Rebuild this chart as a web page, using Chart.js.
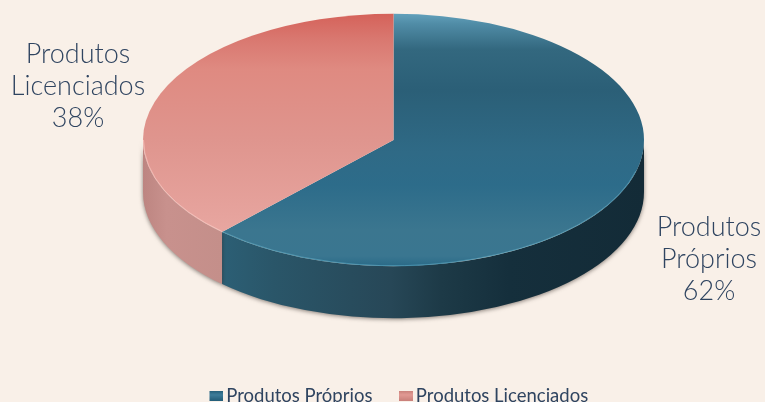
<!DOCTYPE html>
<html><head><meta charset="utf-8">
<style>html,body{margin:0;padding:0;background:#F9F0E8}canvas{display:block}</style>
<script src="https://cdn.jsdelivr.net/npm/chart.js@4"></script>
</head><body>
<canvas id="c" width="765" height="402"></canvas>
<script>
const categories = ['Produtos Próprios', 'Produtos Licenciados'];
const shares = [62, 38];
const labelWords = [['Produtos', 'Próprios'], ['Produtos', 'Licenciados']];

const SCREEN = {cx: 393.5, cy: 140, squash: 0.504, depth: 52};
const LABEL_AT = [{x: 709, y: 227}, {x: 78, y: 54}];
const TEXT = '#2f4460';

const topStops = [
  [[0, '#62a0bb'], [0.04, '#508ca6'], [0.14, '#33687f'], [0.3, '#2b5f77'], [0.55, '#2f6a86'], [0.68, '#2d6c8a'], [0.86, '#3b768f'], [0.96, '#3a7690'], [1, '#2a6a88']],
  [[0, '#d5625a'], [0.1, '#d97870'], [0.22, '#df8a81'], [0.5, '#df958e'], [0.8, '#e6a39d'], [1, '#ecaea8']]
];
const sideStops = [
  [[0, '#2c5f75'], [0.12, '#2a5669'], [0.4, '#274757'], [0.52, '#1d3a47'], [0.68, '#152f3c'], [1, '#132b37']],
  [[0, '#bd8581'], [0.3, '#c8918d'], [1, '#c48f8a']]
];
const sideRange = [[222, 644], [143, 222]];

function swatch(color, light) {
  const c = document.createElement('canvas');
  c.width = 20; c.height = 10;
  const x = c.getContext('2d');
  const g = x.createLinearGradient(0, 0, 0, 10);
  g.addColorStop(0, color); g.addColorStop(.4, light); g.addColorStop(1, color);
  x.fillStyle = g; x.fillRect(6, 0, 14, 10);
  return c;
}
const swatches = [swatch('#235d78', '#3f7d9a'), swatch('#c9807a', '#e29a94')];

function topFill(ctx) {
  const chart = ctx.chart, a = chart.chartArea, i = ctx.dataIndex;
  if (!a || i === undefined) return topStops[i || 0][2][1];
  const y0 = (a.top + a.bottom) / 2, r = 250;
  const g = chart.ctx.createLinearGradient(0, y0 - r, 0, y0 + r);
  topStops[i].forEach(s => g.addColorStop(s[0], s[1]));
  return g;
}

const pie3d = {
  id: 'pie3d',
  beforeDatasetsDraw(chart) {
    const ctx = chart.ctx, meta = chart.getDatasetMeta(0), S = SCREEN;
    const ry = meta.data[0].outerRadius * S.squash, rx = meta.data[0].outerRadius;
    meta.data.forEach((arc, i) => {
      const a0 = Math.max(arc.startAngle, 0), a1 = Math.min(arc.endAngle, Math.PI);
      if (a1 <= a0) return;
      const path = () => {
        ctx.beginPath();
        ctx.ellipse(S.cx, S.cy, rx, ry, 0, a0, a1);
        ctx.ellipse(S.cx, S.cy + S.depth, rx, ry, 0, a1, a0, true);
        ctx.closePath();
      };
      const g = ctx.createLinearGradient(sideRange[i][0], 0, sideRange[i][1], 0);
      sideStops[i].forEach(s => g.addColorStop(s[0], s[1]));
      ctx.save();
      ctx.shadowColor = 'rgba(40,30,25,.55)';
      ctx.shadowBlur = 4;
      ctx.shadowOffsetY = 1;
      ctx.fillStyle = g;
      path(); ctx.fill();
      ctx.restore();
    });
    ctx.save();
    const ax = meta.data[0].x, ay = meta.data[0].y;
    ctx.translate(S.cx, S.cy);
    ctx.scale(1, S.squash);
    ctx.translate(-ax, -ay);
  },
  afterDatasetsDraw(chart) {
    const ctx = chart.ctx;
    ctx.restore();
    const meta = chart.getDatasetMeta(0), S = SCREEN;
    const rx = meta.data[0].outerRadius, ry = rx * S.squash;
    const rim = ['rgba(110,190,215,.45)', 'rgba(255,205,200,.6)'];
    meta.data.forEach((arc, i) => {
      ctx.beginPath();
      ctx.ellipse(S.cx, S.cy, rx - .5, ry - .5, 0, Math.max(arc.startAngle, 0.25), Math.min(arc.endAngle, Math.PI));
      ctx.strokeStyle = rim[i];
      ctx.lineWidth = 1;
      ctx.stroke();
    });
    ctx.save();
    ctx.font = '300 27px Lato';
    ctx.fillStyle = TEXT;
    ctx.textAlign = 'center';
    ctx.textBaseline = 'middle';
    shares.forEach((v, i) => {
      const lines = labelWords[i].concat(v + '%');
      lines.forEach((t, k) => ctx.fillText(t, LABEL_AT[i].x, LABEL_AT[i].y + k * 32));
    });
    ctx.restore();
  }
};

new Chart(document.getElementById('c'), {
  type: 'pie',
  data: {
    labels: categories,
    datasets: [{
      data: shares,
      backgroundColor: topFill,
      borderWidth: 0,
      hoverOffset: 0,
      clip: false
    }]
  },
  plugins: [pie3d],
  options: {
    responsive: false,
    animation: false,
    radius: 250.5,
    rotation: 0,
    layout: {padding: {left: 33, right: 0, top: 0, bottom: -13}},
    plugins: {
      tooltip: {enabled: false},
      legend: {
        position: 'bottom',
        labels: {
          usePointStyle: true,
          pointStyleWidth: 7.2,
          boxHeight: 10,
          padding: 27,
          color: TEXT,
          font: {family: 'Lato', size: 18.5},
          generateLabels() {
            return categories.map((t, i) => ({
              text: t, pointStyle: swatches[i], fontColor: TEXT, hidden: false, index: i,
              lineWidth: 0, strokeStyle: 'transparent', fillStyle: 'transparent'
            }));
          }
        }
      }
    }
  }
});
</script>
</body></html>
